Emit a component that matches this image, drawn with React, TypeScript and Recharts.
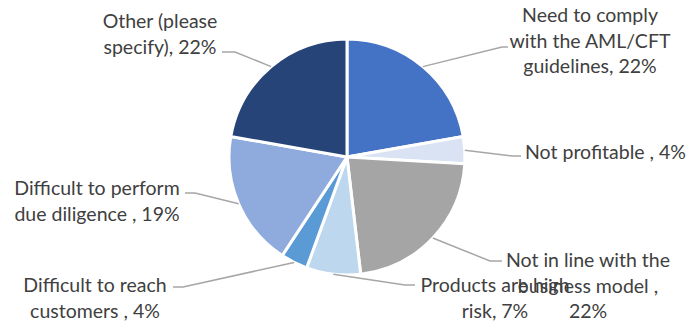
import { PieChart, Pie, Cell } from 'recharts';

const categories = [
  "Need to comply with the AML/CFT guidelines",
  "Not profitable ",
  "Not in line with the business model ",
  "Products are high risk",
  "Difficult to reach customers ",
  "Difficult to perform due diligence ",
  "Other (please specify)",
];

// share of respondents, %
const shares = [22.2, 3.7, 22.2, 7.4, 3.7, 18.5, 22.2];

// wrapped label text, the percentage is appended to the last line
const labelLines = [
  ["Need to comply", "with the AML/CFT", "guidelines,"],
  ["Not profitable ,"],
  ["Not in line with the", "business model ,", ""],
  ["Products are high", "risk,"],
  ["Difficult to reach", "customers ,"],
  ["Difficult to perform", "due diligence ,"],
  ["Other (please", "specify),"],
];

const colors = ["#4472C4", "#DAE3F3", "#A5A5A5", "#BDD7EE", "#5B9BD5", "#8FAADC", "#264478"];

const data = categories.map((name, i) => ({ name, value: shares[i] }));

// label placement: elbow of leader line, end of leader line, text x, first baseline, anchor
const labelPos = [
  { ex: 502, ey: 47, lx: 508, tx: 590, ty: 22, anchor: "middle" },
  { ex: 512, ey: 156, lx: 521, tx: 525, ty: 159, anchor: "start" },
  { ex: 490, ey: 261, lx: 502, tx: 588, ty: 267, anchor: "middle" },
  { ex: 405, ey: 285, lx: 415, tx: 495, ty: 292, anchor: "middle" },
  { ex: 183, ey: 287, lx: 173, tx: 95, ty: 292, anchor: "middle" },
  { ex: 195, ey: 193, lx: 185, tx: 97, ty: 195, anchor: "middle" },
  { ex: 235, ey: 52, lx: 222, tx: 160, ty: 28, anchor: "middle" },
];

const RADIAN = Math.PI / 180;
const FONT = "Lato, 'Open Sans', sans-serif";

const renderLabel = (props: any) => {
  const { cx, cy, midAngle, outerRadius, percent, index } = props;
  const sx = cx + outerRadius * Math.cos(-midAngle * RADIAN);
  const sy = cy + outerRadius * Math.sin(-midAngle * RADIAN);
  const p = labelPos[index];
  const lines = labelLines[index].slice();
  const pct = `${Math.round(percent * 100)}%`;
  const last = lines.length - 1;
  lines[last] = lines[last] ? `${lines[last]} ${pct}` : pct;
  return (
    <g key={`lbl-${index}`}>
      <polyline
        points={`${sx},${sy} ${p.ex},${p.ey} ${p.lx},${p.ey}`}
        fill="none"
        stroke="#A6A6A6"
        strokeWidth={1.5}
      />
      <text
        x={p.tx}
        y={p.ty}
        textAnchor={p.anchor}
        fill="#404040"
        fontSize={19.5}
        fontFamily={FONT}
      >
        {lines.map((t, i) => (
          <tspan key={i} x={p.tx} dy={i === 0 ? 0 : 25.5}>
            {t}
          </tspan>
        ))}
      </text>
    </g>
  );
};

export default function App() {
  return (
    <div style={{ position: "absolute", left: 0, top: 0, background: "#fff" }}>
      <PieChart width={690} height={324} margin={{ top: 0, right: 0, bottom: 0, left: 0 }}>
        <Pie
          data={data}
          dataKey="value"
          nameKey="name"
          cx={347}
          cy={157}
          outerRadius={118}
          startAngle={90}
          endAngle={-270}
          stroke="#fff"
          strokeWidth={3}
          labelLine={false}
          label={renderLabel}
          isAnimationActive={false}
        >
          {data.map((d, i) => (
            <Cell key={d.name} fill={colors[i]} />
          ))}
        </Pie>
      </PieChart>
    </div>
  );
}
